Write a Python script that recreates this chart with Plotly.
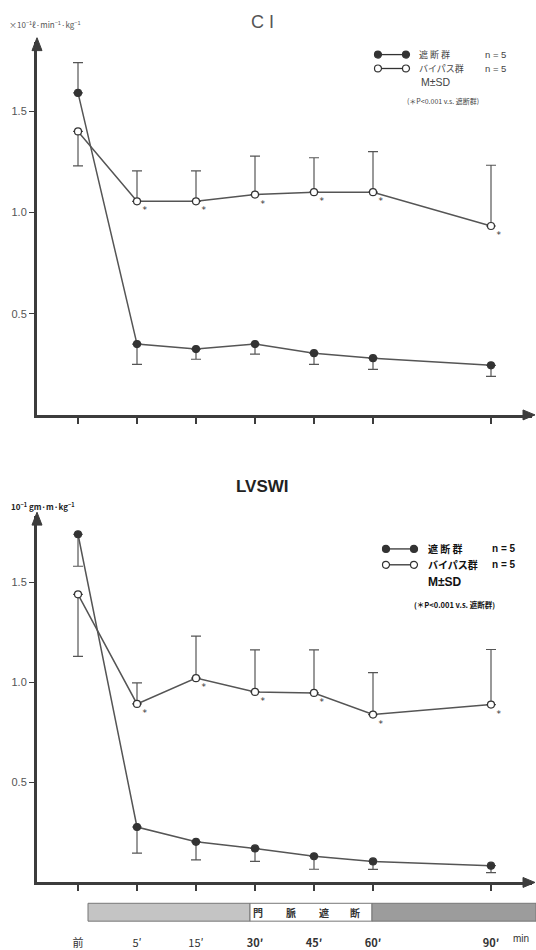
import plotly.graph_objects as go

# ---------------- data ----------------
time_labels = ["前", "5′", "15′", "<b>30′</b>", "<b>45′</b>", "<b>60′</b>", "<b>90′</b>"]
time_index = [0, 1, 2, 3, 4, 5, 7]          # 90' sits two steps after 60'

ci_block = [1.59, 0.35, 0.325, 0.35, 0.305, 0.28, 0.245]       # 遮断群
ci_block_sd = [0.15, 0.10, 0.05, 0.05, 0.055, 0.055, 0.055]
ci_block_dir = ["up", "down", "down", "down", "down", "down", "down"]
ci_bypass = [1.40, 1.055, 1.055, 1.088, 1.10, 1.10, 0.933]     # バイパス群
ci_bypass_sd = [0.17, 0.15, 0.15, 0.19, 0.17, 0.20, 0.30]
ci_bypass_dir = ["down", "up", "up", "up", "up", "up", "up"]

lv_block = [1.74, 0.277, 0.203, 0.170, 0.131, 0.105, 0.084]
lv_block_sd = [0.16, 0.13, 0.09, 0.065, 0.065, 0.04, 0.035]
lv_block_dir = ["down"] * 7
lv_bypass = [1.44, 0.892, 1.021, 0.952, 0.947, 0.839, 0.889]
lv_bypass_sd = [0.31, 0.105, 0.21, 0.21, 0.215, 0.21, 0.275]
lv_bypass_dir = ["down", "up", "up", "up", "up", "up", "up"]

signif = ["", "*", "*", "*", "*", "*", "*"]
y_ticks = [0.5, 1.0, 1.5]

# ---------------- helpers ----------------
W, H = 536, 950
def px(x):
    return x / W
def py(y):
    return 1 - y / H

def err(sd, direction):
    up = [s if d == "up" else 0 for s, d in zip(sd, direction)]
    dn = [s if d == "down" else 0 for s, d in zip(sd, direction)]
    return dict(type="data", symmetric=False, array=up, arrayminus=dn,
                color="#555", thickness=1.2, width=5)

LINE = "#555555"
AXC = "#3c3c3c"
fig = go.Figure()

def add_series(xa, ya, y, sd, dirs, filled, text=None):
    fig.add_trace(go.Scatter(
        x=time_index, y=y, xaxis=xa, yaxis=ya,
        mode="lines+markers+text" if text else "lines+markers",
        text=text, textposition="bottom right",
        textfont=dict(size=9, color="#333", family="DejaVu Sans"),
        line=dict(color=LINE, width=1.5),
        marker=dict(size=7, color="#333" if filled else "white",
                    line=dict(color="#333", width=1.2)),
        error_y=err(sd, dirs), showlegend=False, cliponaxis=False))

add_series("x", "y", ci_block, ci_block_sd, ci_block_dir, True)
add_series("x", "y", ci_bypass, ci_bypass_sd, ci_bypass_dir, False, signif)
add_series("x2", "y2", lv_block, lv_block_sd, lv_block_dir, True)
add_series("x2", "y2", lv_bypass, lv_bypass_sd, lv_bypass_dir, False, signif)

x_left, x_right, x0, step = 37, 532, 78, 59
xr = [(x_left - x0) / step, (x_right - x0) / step]
top_ax = dict(bottom=418, top=42, unit=204)
bot_ax = dict(bottom=889, top=520, unit=201.6)

common_x = dict(range=xr, domain=[px(x_left), px(x_right)], tickmode="array",
                tickvals=time_index, showline=True, linewidth=3, linecolor=AXC,
                ticks="outside", ticklen=6, tickwidth=1.5, tickcolor=AXC,
                showgrid=False, zeroline=False, fixedrange=True)
common_y = dict(tickmode="array", tickvals=y_ticks,
                ticktext=[f"{v:.1f}" for v in y_ticks],
                showline=True, linewidth=3, linecolor=AXC, ticks="outside",
                ticklen=5, tickwidth=1.2, tickcolor=AXC, showgrid=False,
                zeroline=False, tickfont=dict(size=11, color="#555",
                family="Liberation Sans"), fixedrange=True)

fig.update_layout(
    width=W, height=H, margin=dict(l=0, r=0, t=0, b=0),
    paper_bgcolor="white", plot_bgcolor="white",
    xaxis=dict(common_x, anchor="y", showticklabels=False),
    yaxis=dict(common_y, anchor="x",
               domain=[py(top_ax["bottom"]), py(top_ax["top"])],
               range=[0, (top_ax["bottom"] - top_ax["top"]) / top_ax["unit"]]),
    xaxis2=dict(common_x, anchor="y2", ticktext=time_labels,
                tickfont=dict(size=11, color="#333", family="Noto Sans CJK JP"),
                ticklabelstandoff=42),
    yaxis2=dict(common_y, anchor="x2",
                domain=[py(bot_ax["bottom"]), py(bot_ax["top"])],
                range=[0, (bot_ax["bottom"] - bot_ax["top"]) / bot_ax["unit"]]),
)

ann = []
def text(x, y, s, size, color="#444", bold=False, anchor="left",
         family="Noto Sans CJK JP"):
    ann.append(dict(x=px(x), y=py(y), xref="paper", yref="paper",
                    text=f"<b>{s}</b>" if bold else s, showarrow=False,
                    xanchor=anchor, yanchor="middle", borderpad=0,
                    font=dict(size=size, color=color, family=family)))

shapes = []
def tri(points):
    d = "M " + " L ".join(f"{px(a):.5f},{py(b):.5f}" for a, b in points) + " Z"
    shapes.append(dict(type="path", xref="paper", yref="paper", path=d,
                       fillcolor=AXC, line=dict(color=AXC, width=1)))

# arrowheads on axes
for yb, yt in [(top_ax["bottom"], top_ax["top"]), (bot_ax["bottom"], bot_ax["top"])]:
    tri([(x_left, yt - 4), (x_left - 5, yt + 9), (x_left + 5, yt + 9)])
    tri([(x_right + 3, yb), (x_right - 9, yb - 5), (x_right - 9, yb + 5)])

# titles and unit labels
text(262, 22, "C I", 18, "#555", family="Liberation Sans", anchor="center")
text(8, 25, "×10<sup>−1</sup>ℓ·min<sup>−1</sup>·kg<sup>−1</sup>", 8, "#555")
text(262, 490, "LVSWI", 17, "#222", bold=True, family="Liberation Sans",
     anchor="center")
text(10, 510, "10<sup>−1</sup> gm·m·kg<sup>−1</sup>", 8, "#222", bold=True)

# legends
def legend_symbol(x1, x2, y, filled):
    shapes.append(dict(type="line", xref="paper", yref="paper",
                       x0=px(x1), x1=px(x2), y0=py(y), y1=py(y),
                       line=dict(color="#333", width=1.3)))
    for cx in (x1, x2):
        shapes.append(dict(type="circle", xref="paper", yref="paper",
                           x0=px(cx - 3.5), x1=px(cx + 3.5),
                           y0=py(y + 3.5), y1=py(y - 3.5),
                           fillcolor="#333" if filled else "white",
                           line=dict(color="#333", width=1.2)))

legend_symbol(378, 406, 55, True)
legend_symbol(378, 406, 69, False)
text(418, 55, "遮 断 群", 9, "#444")
text(484, 55, "n = 5", 9.5, "#444", family="Liberation Sans")
text(418, 69, "バイパス群", 9, "#444")
text(484, 69, "n = 5", 9.5, "#444", family="Liberation Sans")
text(420, 83, "M±SD", 10.5, "#444", family="Liberation Sans")
text(406, 102, "(＊P&lt;0.001 v.s. 遮断群)", 7, "#444")

legend_symbol(386, 414, 553, True)
legend_symbol(386, 414, 569, False)
text(427, 553, "遮 断 群", 10, "#111", bold=True)
text(491, 553, "n = 5", 10, "#111", bold=True, family="Liberation Sans")
text(427, 569, "バイパス群", 10, "#111", bold=True)
text(491, 569, "n = 5", 10, "#111", bold=True, family="Liberation Sans")
text(427, 586, "M±SD", 12, "#111", bold=True, family="Liberation Sans")
text(413, 609, "(＊P&lt;0.001 v.s. 遮断群)", 7.5, "#111", bold=True)

# portal-vein occlusion bar
for a, b, c in [(88, 250, "#c4c4c4"), (250, 372, "white"), (372, 536, "#9c9c9c")]:
    shapes.append(dict(type="rect", xref="paper", yref="paper",
                       x0=px(a), x1=px(b), y0=py(928), y1=py(910),
                       fillcolor=c, line=dict(color="#777", width=1)))
for cx, ch in zip([258, 291, 324, 355], ["門", "脈", "遮", "断"]):
    text(cx, 919, ch, 10, "#333", bold=True, anchor="center")
text(512, 945, "min", 10, "#333", family="Liberation Sans")

fig.update_layout(annotations=ann, shapes=shapes)
fig.write_html("out.html")
